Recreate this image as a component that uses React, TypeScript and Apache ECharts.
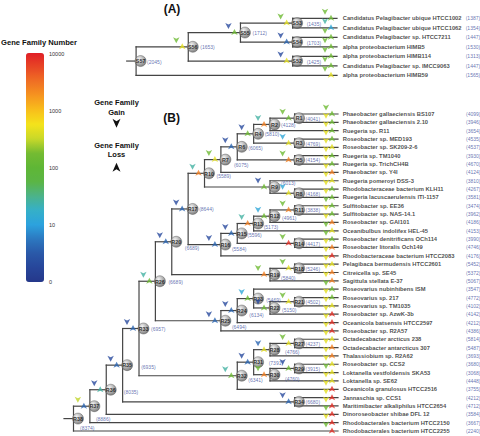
import React, { useEffect, useRef } from 'react';
import * as echarts from 'echarts';

const FONT = '"Liberation Sans", Arial, Helvetica, sans-serif';

// ---------- Panel A (SAR11 clade) ----------
const aLeafNames = [
  'Candidatus Pelagibacter ubique HTCC1002',
  'Candidatus Pelagibacter ubique HTCC1062',
  'Candidatus Pelagibacter sp. HTCC7211',
  'alpha proteobacterium HIMB5',
  'alpha proteobacterium HIMB114',
  'Candidatus Pelagibacter sp. IMCC9063',
  'alpha proteobacterium HIMB59',
];
const aLeafCounts = [1387, 1354, 1447, 1530, 1313, 1447, 1565];
const aLeafGain = [150, 25, 150, 150, 150, 150, 150];
const aLeafLoss = [150, 12, 150, 150, 150, 150, 450];
const aNodeNames = ['S53', 'S54', 'S52', 'S55', 'S56', 'S57'];
const aNodeKids: (number | string)[][] = [[1, 2], [3, 4], [5, 6], ['S53', 'S54'], ['S55', 'S52'], ['S56', 7]];
const aNodeDepth = [3, 3, 3, 2, 1, 0];
const aNodeCounts = [1435, 1703, 1425, 1712, 1653, 2045];
const aNodeGain = [150, 2, 2, 2, 150, null];
const aNodeLoss = [450, 4, 450, 150, 450, null];

// ---------- Panel B (Roseobacter clade) ----------
const bLeafNames = [
  'Phaeobacter gallaeciensis BS107',
  'Phaeobacter gallaeciensis 2.10',
  'Ruegeria sp. R11',
  'Roseobacter sp. MED193',
  'Roseobacter sp. SK209-2-6',
  'Ruegeria sp. TM1040',
  'Ruegeria sp. TrichCH4B',
  'Phaeobacter sp. Y4I',
  'Ruegeria pomeroyi DSS-3',
  'Rhodobacteraceae bacterium KLH11',
  'Ruegeria lacuscaerulensis ITI-1157',
  'Sulfitobacter sp. EE36',
  'Sulfitobacter sp. NAS-14.1',
  'Roseobacter sp. GAI101',
  'Oceanibulbus indolifex HEL-45',
  'Roseobacter denitrificans OCh114',
  'Roseobacter litoralis Och149',
  'Rhodobacteraceae bacterium HTCC2083',
  'Pelagibaca bermudensis HTCC2601',
  'Citreicella sp. SE45',
  'Sagittula stellata E-37',
  'Roseovarius nubinhibens ISM',
  'Roseovarius sp. 217',
  'Roseovarius sp. TM1035',
  'Roseobacter sp. AzwK-3b',
  'Oceanicola batsensis HTCC2597',
  'Roseobacter sp. R2A57',
  'Octadecabacter arcticus 238',
  'Octadecabacter antarcticus 307',
  'Thalassiobium sp. R2A62',
  'Roseobacter sp. CCS2',
  'Loktanella vestfoldensis SKA53',
  'Loktanella sp. SE62',
  'Oceanicola granulosus HTCC2516',
  'Jannaschia sp. CCS1',
  'Maritimibacter alkaliphilus HTCC2654',
  'Dinoroseobacter shibae DFL 12',
  'Rhodobacterales bacterium HTCC2150',
  'Rhodobacterales bacterium HTCC2255',
];
const bLeafCounts = [4099, 3946, 3654, 4535, 4537, 3930, 4670, 4124, 3810, 4267, 3581, 3474, 3962, 4186, 4153, 3990, 4746, 4176, 5452, 5372, 5067, 3547, 4772, 4102, 4142, 4212, 4386, 5814, 5487, 3693, 3680, 3068, 4448, 3755, 4212, 4712, 3584, 3667, 2240];
const bLeafGain = [150, 450, 450, 450, 450, 450, 450, 450, 450, 450, 450, 150, 450, 450, 150, 150, 450, 450, 450, 450, 450, 150, 450, 450, 450, 450, 450, 450, 450, 450, 450, 150, 450, 450, 450, 450, 150, 450, 150];
const bLeafLoss = [150, 150, 150, 150, 450, 150, 150, 2500, 450, 150, 150, 150, 150, 2500, 450, 150, 2500, 8000, 450, 2500, 2500, 150, 150, 450, 8000, 8000, 8000, 450, 2500, 2500, 450, 450, 450, 8000, 8000, 8000, 8000, 8000, 8000];
const bNodeNames = ['R1', 'R2', 'R3', 'R4', 'R5', 'R6', 'R7', 'R8', 'R9', 'R10', 'R11', 'R12', 'R13', 'R14', 'R15', 'R16', 'R17', 'R18', 'R19', 'R20', 'R21', 'R22', 'R23', 'R24', 'R25', 'R26', 'R27', 'R28', 'R29', 'R30', 'R31', 'R32', 'R33', 'R34', 'R35', 'R36', 'R37', 'R38'];
const bNodeKids: (number | string)[][] = [
  [1, 2], ['R1', 3], [4, 5], ['R2', 'R3'], [6, 7], ['R4', 'R5'], ['R6', 8], [10, 11], [9, 'R8'], ['R7', 'R9'],
  [12, 13], ['R11', 14], ['R12', 15], [16, 17], ['R13', 'R14'], ['R15', 18], ['R10', 'R16'], [19, 20], ['R18', 21], ['R17', 'R19'],
  [23, 24], ['R21', 25], [22, 'R22'], ['R23', 26], ['R24', 27], ['R20', 'R25'], [28, 29], ['R27', 30], [31, 32], ['R29', 33],
  ['R28', 'R30'], ['R31', 34], ['R26', 'R32'], [35, 36], ['R33', 'R34'], ['R35', 37], ['R36', 38], ['R37', 39],
];
const bNodeDepth = [13.5, 12, 13.5, 11, 13.5, 10, 9, 13.5, 12, 8, 13.5, 12, 11, 13.5, 10, 9, 7, 13.5, 12, 6, 13.5, 12, 11, 10, 9, 5, 13.5, 12, 13.5, 12, 11, 10, 4, 13.5, 3, 2, 1, 0];
const bNodeCounts = [4041, 4128, 4769, 5810, 4154, 6065, 6075, 4168, 6013, 5589, 3838, 4961, 5173, 4417, 5596, 5584, 8644, 5246, 5840, 6689, 4502, 5150, 5469, 6134, 6494, 6689, 4237, 4766, 3915, 4760, 7391, 6341, 6957, 6680, 6935, 8035, 8886, 8374];
const bNodeGain = [150, 25, 12, 2, 150, 2, 150, 12, 2, 25, 150, 12, 25, 150, 2, 2, 2, 150, 150, 2, 150, 2, 12, 2, 2, 25, 150, 4, 2, 150, 2, 25, 2, 2, 2, 2, 300, null];
const bNodeLoss = [150, 2500, 450, 150, 2500, 4, 450, 450, 150, 2500, 2500, 150, 2500, 8000, 4, 4, 4, 450, 2500, 4, 450, 150, 150, 4, 4, 150, 450, 450, 150, 2500, 4, 150, 4, 4, 4, 25, 4, null];

// ---------- Colour scale ----------
const scaleTickLabels = ['0', '10', '100', '1000', '10000'];
const scaleColors = ['#25388a', '#27469a', '#2a58a8', '#2c78c0', '#2ca2de', '#35b0c8', '#4cb38a', '#5bb545', '#5fb636', '#74bb32', '#c8d829', '#f4e31b', '#f8bf1b', '#f6961f', '#f07024', '#e84725', '#e11f26'];

// label nudges (px) for ancestral counts
const nodeLabelNudge: Record<string, [number, number]> = {
  S53: [14, 0.5], S54: [14, 0.5], S52: [14, 0.5], S55: [12, 0.5], S56: [12, 0.5], S57: [11, 0.5],
  R6: [11, 1], R7: [13, 5], R9: [11, -3.5], R10: [12, 3], R12: [12, 2], R13: [10, 4], R15: [10, 1.5], R16: [11, 4],
  R19: [11, 3], R20: [13, 6], R22: [12, 2], R23: [12.5, 1], R24: [12, 4.5], R25: [11, 6.5], R26: [13, 0.5],
  R28: [15, 2.4], R30: [15, 4], R31: [15, 1], R32: [11, 4], R33: [12, 1], R35: [18.5, 1.5], R36: [17.5, 2], R37: [6, 13], R38: [6.5, 9],
};

function buildTree(leafNames: string[], nodeNames: string[], kids: (number | string)[][], depth: number[], leafDepth: number, stem: number) {
  const key = (k: number | string) => (typeof k === 'number' ? 'L' + k : k);
  const pos = new Map<string, [number, number]>();
  const span = new Map<string, [number, number]>();
  leafNames.forEach((_, i) => pos.set('L' + (i + 1), [leafDepth, i + 1]));
  nodeNames.forEach((n, i) => {
    const ys = kids[i].map((k) => pos.get(key(k))![1]);
    const lo = Math.min(...ys);
    const hi = Math.max(...ys);
    pos.set(n, [depth[i], (lo + hi) / 2]);
    span.set(n, [lo, hi]);
  });
  const parent = new Map<string, string>();
  nodeNames.forEach((n, i) => kids[i].forEach((k) => parent.set(key(k), n)));
  const edges: number[][] = [];
  pos.forEach(([x, y], k) => {
    const p = parent.get(k);
    const px = p ? pos.get(p)![0] : x - stem;
    const sp = span.get(k) || [y, y];
    edges.push([x, y, px, sp[0], sp[1]]);
  });
  return {
    edges,
    nodePts: nodeNames.map((n) => pos.get(n)!),
    leafPts: leafNames.map((_, i) => pos.get('L' + (i + 1))!),
  };
}

function panelSeries(grid: number, leafNames: string[], leafCounts: number[], leafGain: number[], leafLoss: number[],
  nodeNames: string[], kids: (number | string)[][], depth: number[], nodeCounts: number[],
  nodeGain: (number | null)[], nodeLoss: (number | null)[], leafDepth: number, stem: number, nameDist: number, countDist: number) {
  const t = buildTree(leafNames, nodeNames, kids, depth, leafDepth, stem);
  const lineStyle = { stroke: '#454545', lineWidth: 1.2, lineCap: 'square' };
  const sphere = new echarts.graphic.RadialGradient(0.38, 0.32, 0.7, [
    { offset: 0, color: '#f2f2f2' },
    { offset: 0.5, color: '#a9a9a9' },
    { offset: 1, color: '#5e5e5e' },
  ]);
  const tri = (vals: (number | null)[], pts: [number, number][]) =>
    pts.map((p, i) => (vals[i] == null ? null : [p[0], p[1], Math.log10(vals[i] as number)])).filter((d) => d) as number[][];
  const gainData = [...tri(nodeGain, t.nodePts), ...tri(leafGain, t.leafPts)];
  const lossData = [...tri(nodeLoss, t.nodePts), ...tri(leafLoss, t.leafPts)];
  const common = { xAxisIndex: grid, yAxisIndex: grid, silent: true };
  return [
    {
      ...common, type: 'custom', data: t.edges, encode: { x: 0, y: 1 }, z: 1,
      renderItem: (_p: any, api: any) => {
        const x = api.value(0), y = api.value(1), px = api.value(2), y0 = api.value(3), y1 = api.value(4);
        const p = api.coord([x, y]);
        const pp = api.coord([px, y]);
        const children: any[] = [{ type: 'line', shape: { x1: pp[0], y1: p[1], x2: p[0], y2: p[1] }, style: lineStyle }];
        if (y0 !== y1) {
          const a = api.coord([x, y0]);
          const b = api.coord([x, y1]);
          children.push({ type: 'line', shape: { x1: a[0], y1: a[1], x2: b[0], y2: b[1] }, style: lineStyle });
        }
        return { type: 'group', children };
      },
    },
    {
      ...common, type: 'scatter', z: 4, symbol: 'circle', symbolSize: 11, symbolOffset: [4.5, 0],
      itemStyle: { color: sphere, borderColor: '#4a4a4a', borderWidth: 0.5 },
      label: { show: true, position: 'inside', formatter: '{b}', fontSize: 5.4, fontWeight: 'bold', color: '#0a0a0a', fontFamily: FONT, offset: [0, 0.3] },
      data: t.nodePts.map((p, i) => ({ name: nodeNames[i], value: p })),
    },
    {
      ...common, type: 'scatter', z: 5, symbolSize: 0,
      label: { show: true, position: 'right', distance: 0, formatter: '{b}', fontSize: 5, color: '#3d4f9e', fontFamily: FONT },
      data: t.nodePts.map((p, i) => ({ name: '(' + nodeCounts[i] + ')', value: p, label: { offset: nodeLabelNudge[nodeNames[i]] || [11, 0.5] } })),
    },
    {
      ...common, type: 'scatter', z: 5, symbolSize: 0,
      label: { show: true, position: 'right', distance: nameDist, formatter: '{b}', fontSize: 5.8, fontWeight: 'bold', color: '#1a1a1a', fontFamily: FONT },
      data: t.leafPts.map((p, i) => ({ name: leafNames[i], value: p })),
    },
    {
      ...common, type: 'scatter', z: 5, symbolSize: 0,
      label: { show: true, position: 'right', distance: countDist, formatter: '{b}', fontSize: 5, color: '#3d4f9e', fontFamily: FONT },
      data: t.leafPts.map((p, i) => ({ name: '(' + leafCounts[i] + ')', value: p })),
    },
    { ...common, type: 'scatter', z: 6, symbol: 'arrow', symbolRotate: 180, symbolSize: [4.8, 6], symbolOffset: [-12, -3.5], data: gainData },
    { ...common, type: 'scatter', z: 6, symbol: 'arrow', symbolSize: [4.8, 6], symbolOffset: [-6, -3.5], data: lossData },
  ];
}

export default function App() {
  const ref = useRef<HTMLDivElement>(null);
  useEffect(() => {
    document.body.style.margin = '0';
    const chart = echarts.init(ref.current!, null, { renderer: 'svg' });
    const sA = panelSeries(0, aLeafNames, aLeafCounts, aLeafGain, aLeafLoss, aNodeNames, aNodeKids, aNodeDepth, aNodeCounts, aNodeGain, aNodeLoss, 3.85, 0.18, 5.7, 128.7);
    const sB = panelSeries(1, bLeafNames, bLeafCounts, bLeafGain, bLeafLoss, bNodeNames, bNodeKids, bNodeDepth, bNodeCounts, bNodeGain, bNodeLoss, 16.15, 0.58, 4.7, 128);
    const series: any[] = [...sA, ...sB, { type: 'scatter', xAxisIndex: 2, yAxisIndex: 2, data: [] }];
    const hidden = { show: false };
    const arrowDown = [[-4, -4.5], [0, -2], [4, -4.5], [0, 4.5]];
    const arrowUp = [[-4, 4.5], [0, 2], [4, 4.5], [0, -4.5]];
    chart.setOption({
      animation: false,
      backgroundColor: '#ffffff',
      textStyle: { fontFamily: FONT },
      grid: [
        { left: 126.7, top: 18.3, width: 210.3, height: 57 },
        { left: 64, top: 114, width: 274, height: 317 },
        { left: 44, top: 54, width: 1, height: 228 },
      ],
      xAxis: [
        { gridIndex: 0, type: 'value', min: -0.18, max: 3.85, ...hidden },
        { gridIndex: 1, type: 'value', min: -0.58, max: 16.15, ...hidden },
        { gridIndex: 2, type: 'value', min: 0, max: 1, ...hidden },
      ],
      yAxis: [
        { gridIndex: 0, type: 'value', min: 1, max: 7, inverse: true, ...hidden },
        { gridIndex: 1, type: 'value', min: 1, max: 39, inverse: true, ...hidden },
        {
          gridIndex: 2, type: 'value', min: 0, max: 4, interval: 1, position: 'right',
          axisLine: { show: false }, axisTick: { show: false }, splitLine: { show: false },
          axisLabel: { formatter: (v: number) => scaleTickLabels[v], fontSize: 5.5, color: '#333', margin: 4, fontFamily: FONT },
        },
      ],
      visualMap: {
        type: 'continuous', min: 0, max: 4, dimension: 2,
        seriesIndex: [5, 6, 12, 13],
        left: 26, top: 53, itemWidth: 18, itemHeight: 229, padding: 0,
        calculable: false, hoverLink: false, realtime: false,
        inRange: { color: scaleColors },
      },
      graphic: [
        { type: 'text', x: 1, y: 42, style: { text: 'Gene Family Number', fontSize: 7.6, fontWeight: 'bold', fill: '#111', fontFamily: FONT, align: 'left', verticalAlign: 'middle' } },
        { type: 'text', x: 172, y: 8.5, style: { text: '(A)', fontSize: 12, fontWeight: 'bold', fill: '#111', fontFamily: FONT, align: 'center', verticalAlign: 'middle' } },
        { type: 'text', x: 171.7, y: 117.5, style: { text: '(B)', fontSize: 12, fontWeight: 'bold', fill: '#111', fontFamily: FONT, align: 'center', verticalAlign: 'middle' } },
        { type: 'text', x: 116.5, y: 98, style: { text: 'Gene Family\nGain', fontSize: 7.5, lineHeight: 9.6, fontWeight: 'bold', fill: '#111', fontFamily: FONT, align: 'center', verticalAlign: 'top' } },
        { type: 'polygon', x: 116.5, y: 123.3, shape: { points: arrowDown }, style: { fill: '#111' } },
        { type: 'text', x: 116.5, y: 140.3, style: { text: 'Gene Family\nLoss', fontSize: 7.5, lineHeight: 9.6, fontWeight: 'bold', fill: '#111', fontFamily: FONT, align: 'center', verticalAlign: 'top' } },
        { type: 'polygon', x: 116.5, y: 167.3, shape: { points: arrowUp }, style: { fill: '#111' } },
      ],
      series,
    });
    return () => chart.dispose();
  }, []);
  return <div ref={ref} style={{ width: 480, height: 436 }} />;
}
